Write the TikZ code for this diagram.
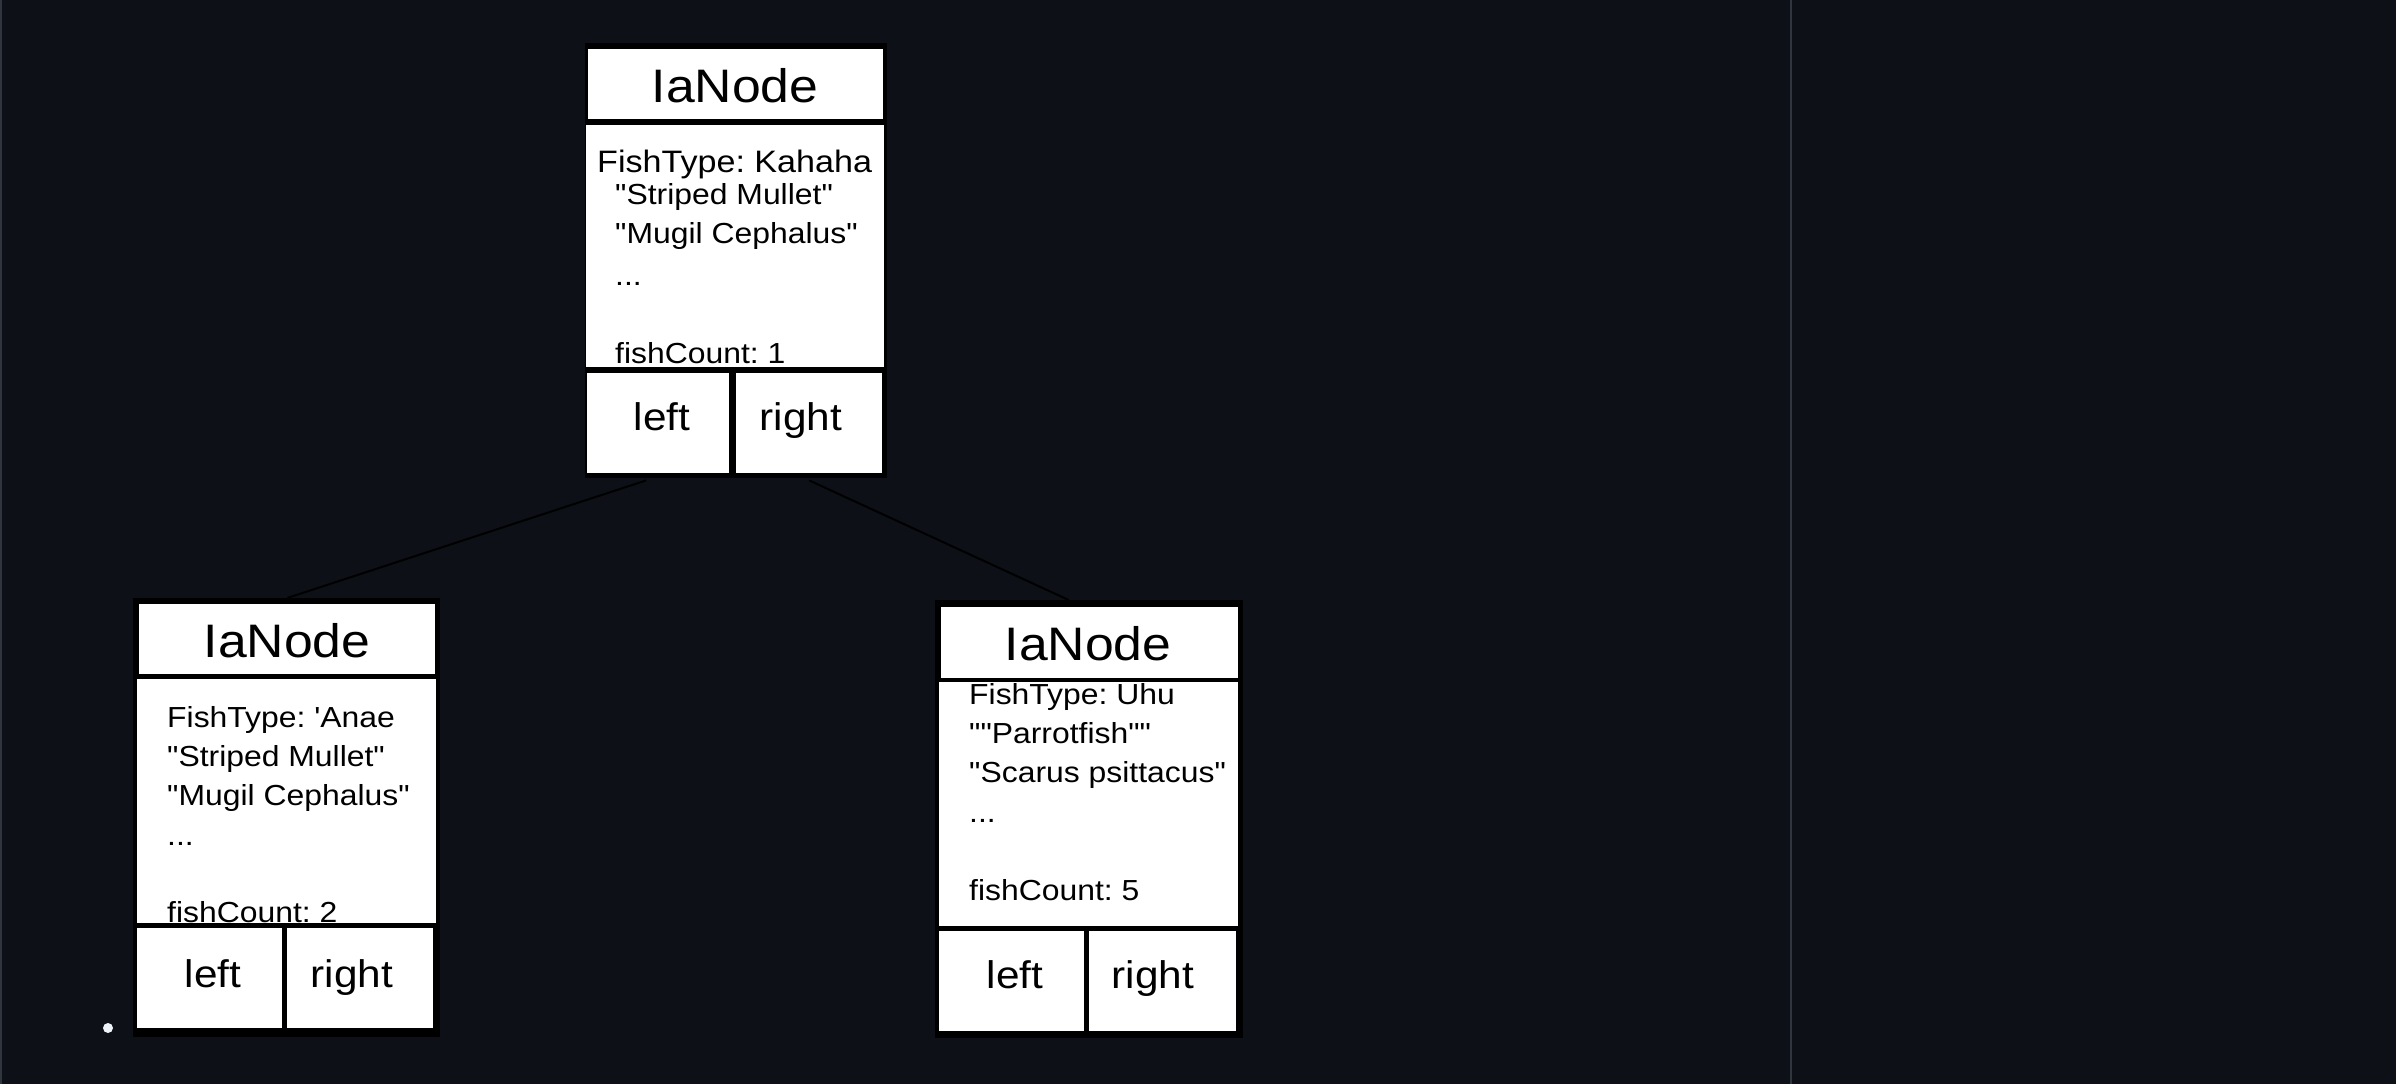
\documentclass[tikz,border=0pt]{standalone}
\usepackage{graphicx}
\usepackage{fontspec}
\setmainfont{Liberation Sans}
\usetikzlibrary{calc}
\definecolor{bgc}{HTML}{0D1117}
\definecolor{edgec}{HTML}{30363D}
\definecolor{dotc}{HTML}{EEF3FA}
\newcommand{\sx}[1]{\scalebox{1.1}[1]{#1}}
\newcommand{\mydq}{\textquotedbl}
\newcommand{\mysq}{\textquotesingle}
\frenchspacing
\tikzset{
  cell/.style={fill=white, draw=none, inner sep=0, anchor=north west},
  frame/.style={fill=black},
  ttl/.style={inner sep=0, text=black, anchor=base, font=\fontsize{47}{56}\selectfont},
  bodytxt/.style={inner sep=0, text=black, anchor=base west, font=\fontsize{29}{35}\selectfont},
  bigtxt/.style={inner sep=0, text=black, anchor=base west, font=\fontsize{31}{37}\selectfont},
  lrtxt/.style={inner sep=0, text=black, anchor=base, font=\fontsize{38.5}{46}\selectfont},
  conn/.style={draw=black, line width=2pt}
}
\begin{document}
\begin{tikzpicture}[x=1pt,y=-1pt]
\fill[bgc] (0,0) rectangle (2396,1084);
\useasboundingbox (0,0) rectangle (2396,1084);
\fill[edgec] (0,0) rectangle (1.6,1084);
\fill[edgec] (1789.7,0) rectangle (1791.7,1084);
\fill[dotc] (108,1028) circle (5);

% ---- top node
\fill[frame] (585,43) rectangle (887,478);
\node[cell, minimum width=295pt, minimum height=70pt] (aT) at (588,49) {};
\node[cell, minimum width=298pt, minimum height=242pt] (aB) at (586,125) {};
\node[ttl] (aTt) at (735,102) {\sx{IaNode}};
\node[bigtxt] (a1) at (597,172) {\sx{FishType: Kahaha}};
\node[bodytxt] (a2) at (615,204) {\sx{\mydq Striped Mullet\mydq}};
\node[bodytxt] (a3) at (615,243) {\sx{\mydq Mugil Cephalus\mydq}};
\node[bodytxt] (a4) at (615,285) {\sx{...}};
\node[bodytxt] (a5) at (615,363) {\sx{fishCount: 1}};
\node[cell, minimum width=142pt, minimum height=100pt] (aL) at (587,373) {};
\node[cell, minimum width=146pt, minimum height=100pt] (aR) at (736,373) {};
\node[lrtxt] (aLt) at (662,430) {\sx{left}};
\node[lrtxt] (aRt) at (801,430) {\sx{right}};

% ---- left node
\fill[frame] (133,598) rectangle (440,1037);
\node[cell, minimum width=296pt, minimum height=70pt] (bT) at (139,604) {};
\node[cell, minimum width=299pt, minimum height=244pt] (bB) at (137,679) {};
\node[ttl] (bTt) at (287,657) {\sx{IaNode}};
\node[bodytxt] (b1) at (167,727) {\sx{FishType: \mysq Anae}};
\node[bodytxt] (b2) at (167,766) {\sx{\mydq Striped Mullet\mydq}};
\node[bodytxt] (b3) at (167,805) {\sx{\mydq Mugil Cephalus\mydq}};
\node[bodytxt] (b4) at (167,845) {\sx{...}};
\node[bodytxt] (b5) at (167,922) {\sx{fishCount: 2}};
\fill[frame] (133,923) rectangle (440,928);
\node[cell, minimum width=145pt, minimum height=100pt] (bL) at (137,928) {};
\node[cell, minimum width=146pt, minimum height=100pt] (bR) at (287,928) {};
\node[lrtxt] (bLt) at (213,987) {\sx{left}};
\node[lrtxt] (bRt) at (352,987) {\sx{right}};

% ---- right node
\fill[frame] (935,600) rectangle (1243,1038);
\node[cell, minimum width=297pt, minimum height=71pt] (cT) at (941,607) {};
\node[cell, minimum width=299pt, minimum height=244pt] (cB) at (939,682) {};
\node[ttl] (cTt) at (1088,660) {\sx{IaNode}};
\node[bodytxt] (c1) at (969,704) {\sx{FishType: Uhu}};
\node[bodytxt] (c2) at (969,743) {\sx{\mydq\mydq Parrotfish\mydq\mydq}};
\node[bodytxt] (c3) at (969,782) {\sx{\mydq Scarus psittacus\mydq}};
\node[bodytxt] (c4) at (969,822) {\sx{...}};
\node[bodytxt] (c5) at (969,900) {\sx{fishCount: 5}};
\node[cell, minimum width=145pt, minimum height=100pt] (cL) at (939,931) {};
\node[cell, minimum width=147pt, minimum height=100pt] (cR) at (1089,931) {};
\node[lrtxt] (cLt) at (1015,988) {\sx{left}};
\node[lrtxt] (cRt) at (1153,988) {\sx{right}};

% ---- connectors
\draw[conn] ([xshift=-12pt,yshift=-7pt]aL.south) -- ([yshift=6pt]bT.north);
\draw[conn] ([yshift=-7pt]aR.south) -- ([xshift=-21pt,yshift=7pt]cT.north);
\end{tikzpicture}
\end{document}
